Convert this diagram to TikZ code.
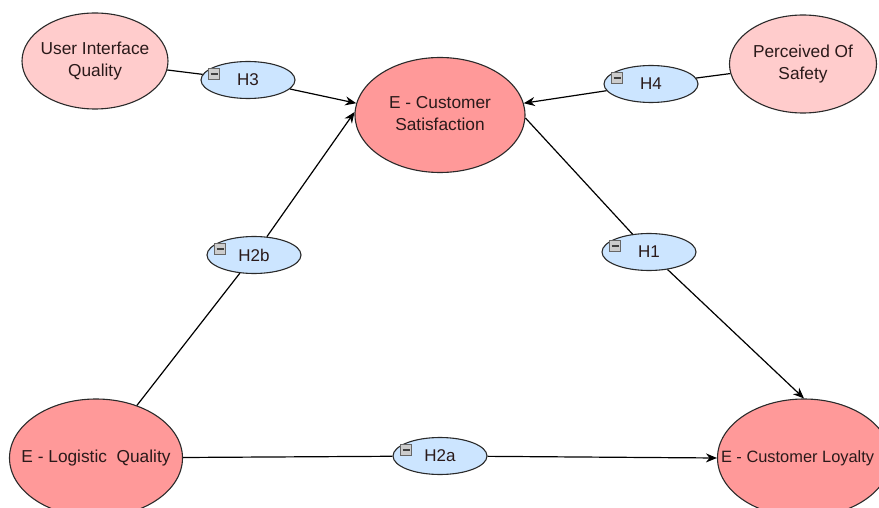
\documentclass[tikz,border=0pt]{standalone}
\usepackage{fontspec}
\setmainfont{Liberation Sans}
\usetikzlibrary{arrows.meta,calc,shapes.geometric}
\definecolor{bigfill}{HTML}{FF9999}
\definecolor{lightfill}{HTML}{FFCCCC}
\definecolor{hypfill}{HTML}{CCE5FF}
\definecolor{edgecol}{HTML}{2A2A2A}
\definecolor{txtcol}{HTML}{2A1A1A}
\newcommand\ctext[1]{\makebox[0pt][c]{\begin{tabular}{@{}c@{}}#1\end{tabular}}}
\tikzset{
  construct/.style={ellipse, draw=edgecol, line width=1.1pt, inner sep=0pt, align=center,
    font=\fontsize{17.3}{21.5}\selectfont, text=txtcol},
  bigc/.style={construct, fill=bigfill},
  smallc/.style={construct, fill=lightfill},
  hyp/.style={ellipse, draw=edgecol, line width=1.1pt, fill=hypfill, inner sep=0pt,
    minimum width=94pt, minimum height=37pt, font=\fontsize{17}{18}\selectfont, text=txtcol},
  icon/.style={draw=gray!80!black, fill=gray!40, minimum width=11pt, minimum height=11pt,
    inner sep=0pt, line width=0.5pt},
  link/.style={draw=black, line width=1.2pt},
  arr/.style={link, -{Stealth[length=11pt,width=9pt]}}
}
\begin{document}
\begin{tikzpicture}[x=1pt,y=-1pt]
\useasboundingbox (0,0) rectangle (879,508);
\clip (0,0) rectangle (879,508);
\fill[white] (0,0) rectangle (879,508);
% constructs
\node[smallc, minimum width=146pt, minimum height=96pt] (uiq) at (95,61) {\ctext{User Interface\\Quality}};
\node[smallc, minimum width=147pt, minimum height=98pt] (pos) at (803,64) {\ctext{Perceived Of\\Safety}};
\node[bigc, minimum width=170pt, minimum height=115pt] (ecs) at (440,115) {\ctext{E - Customer\\Satisfaction}};
\node[bigc, minimum width=173pt, minimum height=118pt] (elq) at (96,458) {\ctext{E - Logistic\ \ Quality}};
\node[bigc, minimum width=173pt, minimum height=118pt, font=\fontsize{16.4}{20}\selectfont] (ecl) at (804,458) {\makebox[0pt][l]{\hspace*{-83pt}E - Customer Loyalty}};
% hypotheses
\node[hyp] (h3) at (248,80) {H3};
\node[hyp] (h4) at (651,84) {H4};
\node[hyp] (h2b) at (254,255) {H2b};
\node[hyp] (h1) at (649,252) {H1};
\node[hyp] (h2a) at (440,456) {H2a};
% icons
\foreach \h in {h3,h4,h2b,h1,h2a}{
  \node[icon] (\h icon) at ($(\h.center)+(-34,-6)$) {};
  \draw[black!75, line width=1.4pt] ($(\h icon.center)+(-3.5,0)$) -- ($(\h icon.center)+(3.5,0)$);
}
% connectors
\draw[link] (uiq) -- (h3);
\draw[arr] (h3) -- (ecs.172);
\draw[link] (pos) -- (h4);
\draw[arr] (h4) -- (ecs.8);
\draw[link] (elq) -- (h2b);
\draw[arr] (h2b) -- (ecs.178);
\draw[link] (ecs.358) -- (h1);
\draw[arr] (h1) -- (ecl.north);
\draw[link] (elq) -- (h2a);
\draw[arr] (h2a) -- (ecl.west);
\end{tikzpicture}
\end{document}
